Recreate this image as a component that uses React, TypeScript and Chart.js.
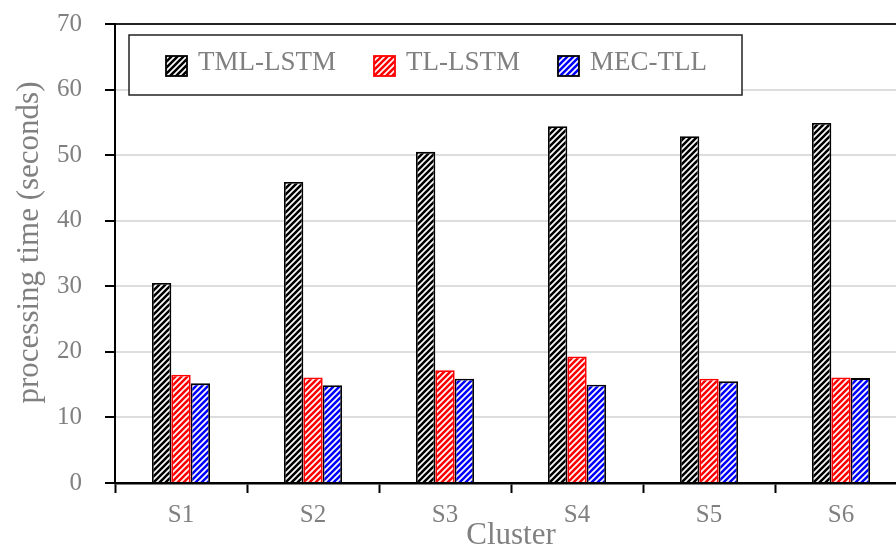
import React, { useEffect, useRef } from "react";
import { Chart, registerables } from "chart.js";

Chart.register(...registerables);

const categories = ["S1", "S2", "S3", "S4", "S5", "S6"];
const tmlLstm = [30.5, 45.9, 50.5, 54.4, 52.9, 54.9];
const tlLstm = [16.5, 16.1, 17.2, 19.3, 15.9, 16.1];
const mecTll = [15.2, 14.9, 15.9, 15.0, 15.5, 16.0];
const seriesNames = ["TML-LSTM", "TL-LSTM", "MEC-TLL"];
const yTicks = [0, 10, 20, 30, 40, 50, 60, 70];
const yTitle = "processing time (seconds)";
const xTitle = "Cluster";

const FONT = "'Liberation Serif', 'Times New Roman', serif";
const TEXT_GRAY = "#808080";

function makePattern(color: string): CanvasPattern | string {
  const s = 6;
  const c = document.createElement("canvas");
  c.width = s;
  c.height = s;
  const g = c.getContext("2d");
  if (!g) return color;
  g.fillStyle = "#ffffff";
  g.fillRect(0, 0, s, s);
  g.strokeStyle = color;
  g.lineWidth = 2.6;
  g.beginPath();
  g.moveTo(-2, 2);
  g.lineTo(2, -2);
  g.moveTo(-1, s + 1);
  g.lineTo(s + 1, -1);
  g.moveTo(s - 2, s + 2);
  g.lineTo(s + 2, s - 2);
  g.stroke();
  const p = g.createPattern(c, "repeat");
  return p || color;
}

const yTitlePlugin = {
  id: "yTitle",
  afterDraw(chart: any) {
    const { ctx, chartArea } = chart;
    ctx.save();
    ctx.font = `31px ${FONT}`;
    ctx.fillStyle = TEXT_GRAY;
    ctx.textAlign = "center";
    ctx.textBaseline = "middle";
    ctx.translate(30, (chartArea.top + chartArea.bottom) / 2 - 11);
    ctx.rotate(-Math.PI / 2);
    ctx.fillText(yTitle, 0, 0);
    ctx.restore();
  },
};

const legendPlugin = {
  id: "boxLegend",
  afterDraw(chart: any) {
    const { ctx, chartArea } = chart;
    const bx = chartArea.left + 14;
    const by = chartArea.top + 11;
    const bw = 613;
    const bh = 60;
    ctx.save();
    ctx.fillStyle = "#ffffff";
    ctx.fillRect(bx, by, bw, bh);
    ctx.strokeStyle = "#222222";
    ctx.lineWidth = 1.5;
    ctx.strokeRect(bx, by, bw, bh);
    ctx.font = `27px ${FONT}`;
    ctx.textBaseline = "alphabetic";
    let x = bx + 37;
    chart.data.datasets.forEach((ds: any) => {
      const sw = 21;
      const sh = 20;
      const sy = by + 21;
      ctx.fillStyle = ds.backgroundColor;
      ctx.fillRect(x, sy, sw, sh);
      ctx.strokeStyle = ds.borderColor;
      ctx.lineWidth = 1.8;
      ctx.strokeRect(x, sy, sw, sh);
      ctx.fillStyle = TEXT_GRAY;
      ctx.textAlign = "left";
      const tx = x + sw + 11;
      ctx.fillText(ds.label, tx, by + 35);
      const w = ctx.measureText(ds.label).width;
      x = tx + w + 38;
    });
    ctx.restore();
  },
};

export default function App() {
  const ref = useRef<HTMLCanvasElement | null>(null);

  useEffect(() => {
    const canvas = ref.current;
    if (!canvas) return;
    const colors = ["#000000", "#ff0000", "#0000ff"];
    const borders = ["#000000", "#ff0000", "#000000"];
    const values = [tmlLstm, tlLstm, mecTll];
    const chart = new Chart(canvas, {
      type: "bar",
      data: {
        labels: categories,
        datasets: values.map((v, i) => ({
          label: seriesNames[i],
          data: v,
          backgroundColor: makePattern(colors[i]) as any,
          borderColor: borders[i],
          borderWidth: 1.8,
          barPercentage: 1,
          categoryPercentage: 0.44,
        })),
      },
      options: {
        responsive: false,
        animation: false,
        layout: { padding: { left: 0, top: 24, right: 13, bottom: 0 } },
        plugins: {
          legend: { display: false },
          tooltip: { enabled: false },
        },
        scales: {
          x: {
            offset: true,
            afterFit: (scale: any) => {
              scale.height = 77;
              scale.paddingLeft = 0;
              scale.paddingRight = 0;
            },
            grid: {
              display: true,
              offset: true,
              drawOnChartArea: false,
              drawTicks: true,
              tickLength: 10,
              tickColor: "#000000",
              tickWidth: 2,
            },
            border: { display: true, color: "#000000", width: 2.5 },
            ticks: {
              color: TEXT_GRAY,
              font: { family: FONT, size: 25 },
              padding: 7,
            },
            title: {
              display: true,
              text: xTitle,
              color: TEXT_GRAY,
              font: { family: FONT, size: 31 },
              padding: { top: 0, bottom: 6 },
            },
          },
          y: {
            min: 0,
            max: 70,
            afterFit: (scale: any) => {
              scale.width = 115;
              scale.paddingTop = 0;
              scale.paddingBottom = 0;
            },
            afterBuildTicks: (scale: any) => {
              scale.ticks = yTicks.map((v) => ({ value: v }));
            },
            grid: {
              color: (c: any) => (c.tick && c.tick.value === 70 ? "#222222" : "#dddddd"),
              lineWidth: 2,
              drawTicks: true,
              tickLength: 10,
              tickColor: "#000000",
              tickWidth: 2,
            },
            border: { display: true, color: "#000000", width: 2 },
            ticks: {
              color: TEXT_GRAY,
              font: { family: FONT, size: 25 },
              padding: 23,
            },
            title: { display: false },
          },
        },
      },
      plugins: [legendPlugin, yTitlePlugin],
    });
    return () => chart.destroy();
  }, []);

  return (
    <div
      style={{
        position: "fixed",
        left: 0,
        top: 0,
        width: 896,
        height: 550,
        overflow: "hidden",
        background: "#ffffff",
      }}
    >
      <canvas ref={ref} width={920} height={560} style={{ display: "block" }} />
    </div>
  );
}
